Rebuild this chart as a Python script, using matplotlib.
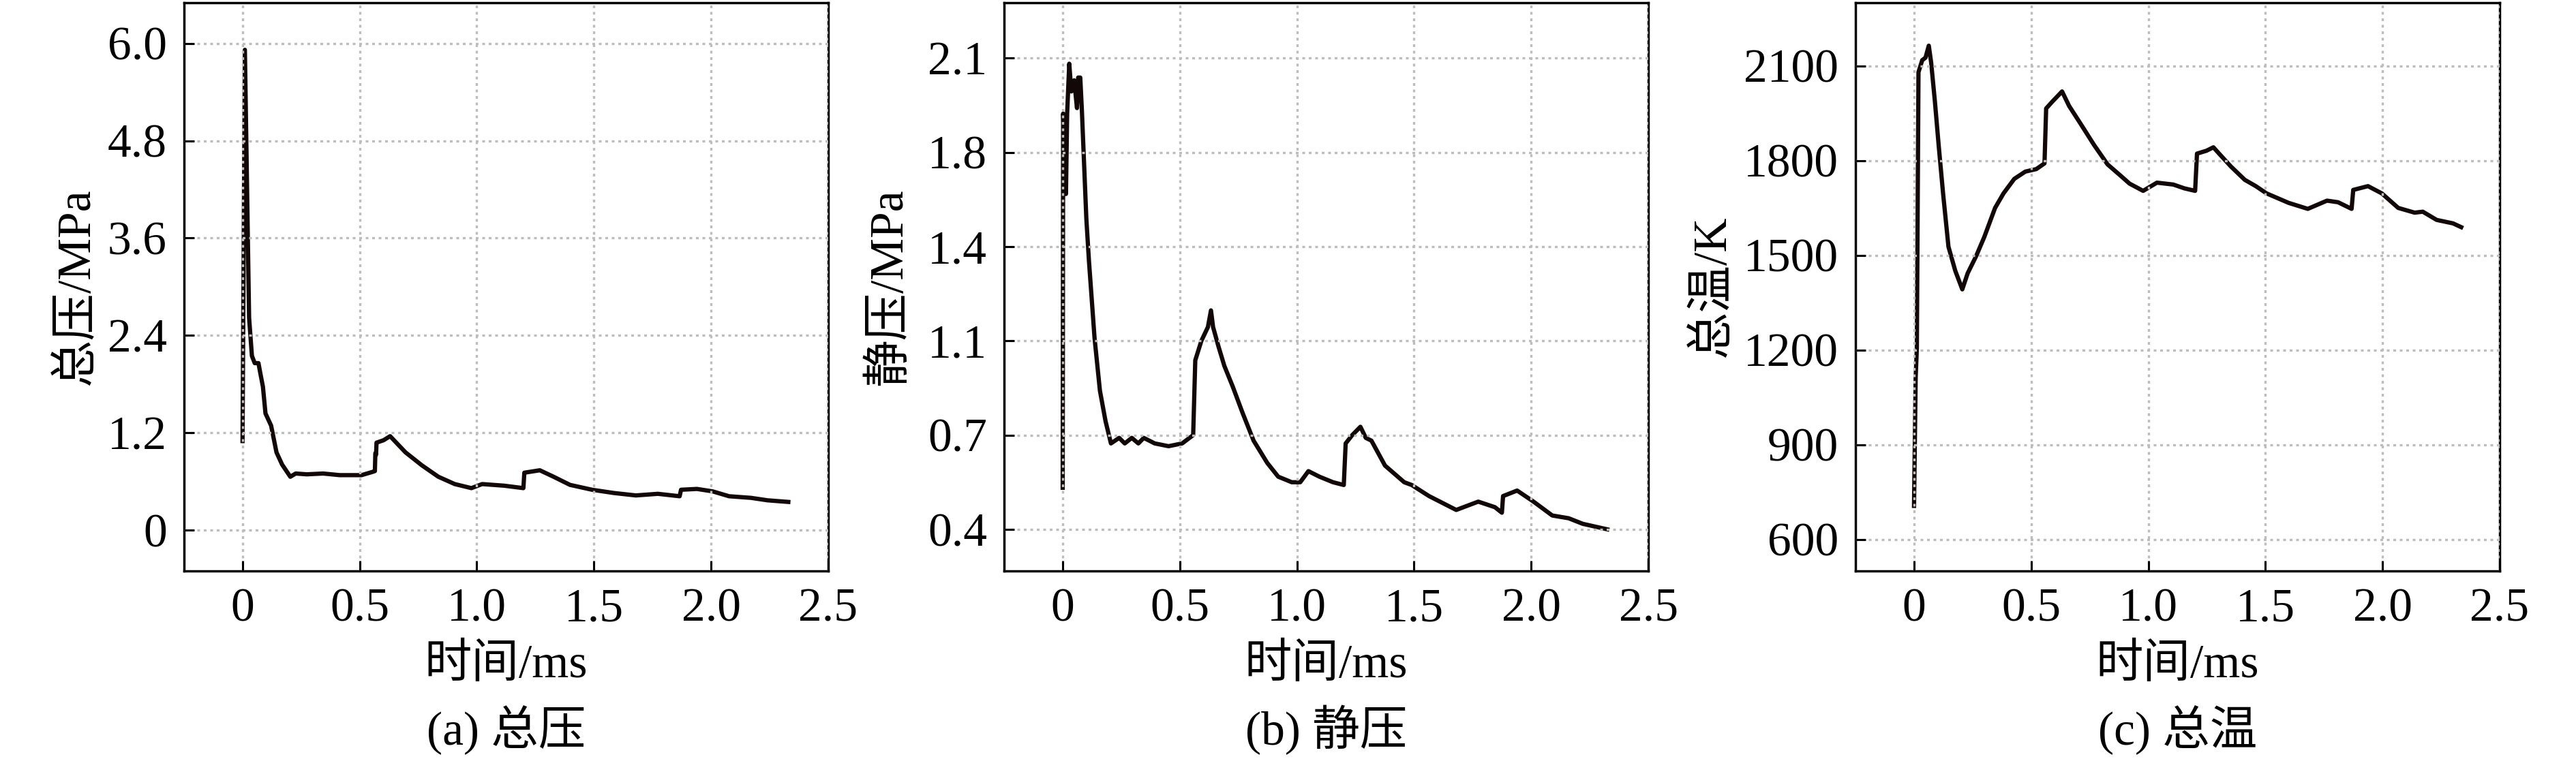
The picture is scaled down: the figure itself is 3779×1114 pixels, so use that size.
import numpy as np
import matplotlib
matplotlib.use('Agg')
import matplotlib.pyplot as plt
import matplotlib.ticker as mticker

plt.rcParams['font.family'] = ['Liberation Serif', 'Noto Sans CJK SC']
plt.rcParams['axes.unicode_minus'] = False

# (a) total pressure, MPa
t_a = [0.0, 0.01, 0.028, 0.04, 0.052, 0.068, 0.075, 0.087, 0.098, 0.122,
       0.145, 0.169, 0.204, 0.227, 0.274, 0.344, 0.415, 0.508, 0.555, 0.565,
       0.567, 0.570, 0.572, 0.602, 0.63, 0.696, 0.766, 0.836, 0.906, 0.977,
       1.023, 1.117, 1.199, 1.203, 1.269, 1.328, 1.398, 1.492, 1.585, 1.679,
       1.773, 1.866, 1.872, 1.94, 2.007, 2.077, 2.171, 2.241, 2.33]
p_total = [1.1, 5.92, 2.62, 2.15, 2.06, 2.06, 1.95, 1.77, 1.44, 1.29,
           0.96, 0.81, 0.66, 0.70, 0.69, 0.70, 0.68, 0.68, 0.72, 0.73,
           0.95, 0.93, 1.08, 1.11, 1.16, 0.96, 0.80, 0.66, 0.57, 0.52,
           0.57, 0.55, 0.52, 0.71, 0.74, 0.66, 0.56, 0.50, 0.46, 0.43,
           0.45, 0.42, 0.50, 0.51, 0.48, 0.42, 0.40, 0.37, 0.35]

# (b) static pressure, MPa
t_b = [0.0, 0.002, 0.014, 0.019, 0.028, 0.037, 0.049, 0.061, 0.066, 0.075,
       0.082, 0.101, 0.112, 0.136, 0.159, 0.183, 0.206, 0.241, 0.265, 0.295,
       0.323, 0.346, 0.393, 0.452, 0.51, 0.557, 0.566, 0.592, 0.62, 0.633,
       0.642, 0.665, 0.69, 0.726, 0.768, 0.815, 0.873, 0.92, 0.978, 1.014,
       1.049, 1.096, 1.154, 1.20, 1.208, 1.236, 1.271, 1.294, 1.318, 1.376,
       1.458, 1.49, 1.564, 1.68, 1.774, 1.845, 1.875, 1.88, 1.94, 2.01,
       2.09, 2.16, 2.22, 2.325]
p_static = [0.55, 1.90, 1.61, 1.90, 2.08, 1.98, 2.02, 1.92, 2.03, 2.03,
            1.91, 1.52, 1.37, 1.09, 0.90, 0.79, 0.71, 0.73, 0.71, 0.73,
            0.71, 0.73, 0.71, 0.70, 0.71, 0.74, 1.01, 1.08, 1.13, 1.19,
            1.13, 1.06, 0.99, 0.915, 0.82, 0.72, 0.64, 0.59, 0.57, 0.57,
            0.61, 0.59, 0.57, 0.56, 0.71, 0.74, 0.77, 0.73, 0.72, 0.63,
            0.57, 0.56, 0.52, 0.47, 0.50, 0.48, 0.46, 0.52, 0.54, 0.50,
            0.45, 0.44, 0.42, 0.40]

# (c) total temperature, K
t_c = [0.0, 0.007, 0.012, 0.019, 0.035, 0.049, 0.063, 0.073, 0.089, 0.105,
       0.124, 0.147, 0.176, 0.206, 0.229, 0.265, 0.30, 0.346, 0.382, 0.428,
       0.475, 0.522, 0.557, 0.564, 0.592, 0.632, 0.662, 0.709, 0.768, 0.826,
       0.885, 0.92, 0.978, 1.037, 1.107, 1.154, 1.20, 1.208, 1.248, 1.278,
       1.306, 1.353, 1.412, 1.459, 1.505, 1.599, 1.681, 1.763, 1.81, 1.868,
       1.875, 1.938, 1.997, 2.067, 2.137, 2.172, 2.231, 2.301, 2.336]
T_total = [706, 1113, 1205, 2080, 2118, 2126, 2164, 2111, 1988, 1850,
           1696, 1527, 1451, 1392, 1443, 1497, 1558, 1650, 1696, 1742,
           1765, 1773, 1791, 1965, 1988, 2019, 1973, 1919, 1850, 1788,
           1750, 1727, 1704, 1730, 1724, 1712, 1704, 1822, 1831, 1842,
           1819, 1781, 1739, 1719, 1696, 1666, 1647, 1673, 1668, 1647,
           1707, 1719, 1696, 1650, 1635, 1638, 1612, 1601, 1589]

x_ticks = [0, 0.5, 1.0, 1.5, 2.0, 2.5]
ylabels = ['总压/MPa', '静压/MPa', '总温/K']
captions = ['(a) 总压', '(b) 静压', '(c) 总温']


def num_fmt(v, pos):
    if abs(v) < 1e-9:
        return '0'
    return '%.1f' % v


fig = plt.figure(figsize=(37.8, 11.14), dpi=100)
lefts = [0.0714, 0.3897, 0.7201]
axes = [fig.add_axes([l, 0.2478, 0.2500, 0.7486]) for l in lefts]

series = [(t_a, p_total), (t_b, p_static), (t_c, T_total)]
ylims = [(-0.5, 6.5), (0.25, 2.3), (500, 2300)]
yticks = [np.arange(0, 6.01, 1.2), np.linspace(0.4, 2.1, 6), np.arange(600, 2101, 300)]
ylab_x = [-0.132, -0.144, -0.187]

for i, ax in enumerate(axes):
    t, v = series[i]
    ax.plot(t, v, color='#120808', lw=4.5, solid_joinstyle='round')
    ax.set_xlim(-0.25, 2.5)
    ax.set_ylim(*ylims[i])
    ax.set_xticks(x_ticks)
    ax.set_yticks(yticks[i])
    ax.xaxis.set_major_formatter(mticker.FuncFormatter(num_fmt))
    if i == 2:
        ax.yaxis.set_major_formatter(mticker.FormatStrFormatter('%d'))
    else:
        ax.yaxis.set_major_formatter(mticker.FuncFormatter(num_fmt))
    ax.tick_params(direction='in', length=10.8, width=2.2, labelsize=50, pad=18)
    for s in ax.spines.values():
        s.set_linewidth(2.5)
    ax.grid(True, color='#bdbdbd', lw=2.4, linestyle=(0, (1.2, 1.65)))
    ax.set_axisbelow(False)
    ax.set_xlabel('时间/ms', fontsize=50)
    ax.xaxis.set_label_coords(0.5, -0.128)
    ax.set_ylabel(ylabels[i], fontsize=50)
    ax.yaxis.set_label_coords(ylab_x[i], 0.5)
    ax.text(0.5, -0.306, captions[i], transform=ax.transAxes, ha='center',
            va='baseline', fontsize=50)

fig.savefig('out.png', dpi=100)
